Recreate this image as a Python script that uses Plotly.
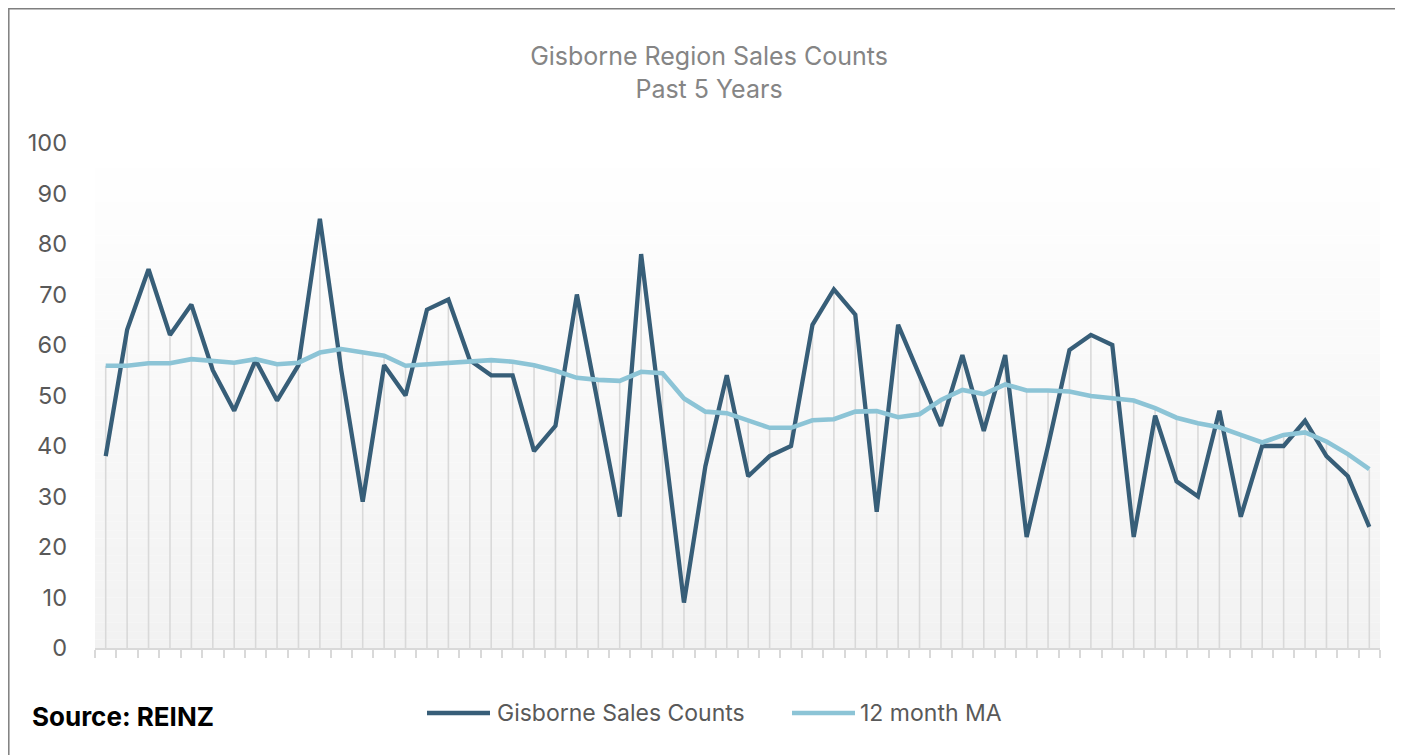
import numpy as np
import plotly.graph_objects as go

# ---- data ----
months = list(range(60))
sales = [38, 63, 75, 62, 68, 55, 47, 57, 49, 56,
         85, 55, 29, 56, 50, 67, 69, 57, 54, 54,
         39, 44, 70, 48, 26, 78, 43, 9, 36, 54,
         34, 38, 40, 64, 71, 66, 27, 64, 54, 44,
         58, 43, 58, 22, 40, 59, 62, 60, 22, 46,
         33, 30, 47, 26, 40, 40, 45, 38, 34, 24]
ma12 = [55.9, 55.9, 56.4, 56.4, 57.2, 56.9, 56.5, 57.2, 56.2, 56.5,
        58.5, 59.2, 58.5, 57.9, 55.9, 56.2, 56.3, 56.6, 57.0, 56.7,
        56.0, 54.9, 53.5, 53.1, 52.9, 54.7, 54.4, 49.4, 46.8, 46.5,
        45.1, 43.6, 43.6, 45.1, 45.3, 46.8, 46.9, 45.7, 46.3, 49.1,
        51.1, 50.3, 52.2, 51.0, 51.0, 50.8, 49.9, 49.4, 49.0, 47.5,
        45.6, 44.5, 43.7, 42.2, 40.7, 42.2, 42.7, 40.9, 38.4, 35.4]
y_ticks = [0, 10, 20, 30, 40, 50, 60, 70, 80, 90, 100]
series_names = ["Gisborne Sales Counts", "12 month MA"]

DARK = "#375e78"
LIGHT = "#8cc4d6"
TXT = "#595959"

W, H = 1403, 755
L, R, T, B = 87, 31, 135, 115
pw, ph = W - L - R, H - T - B


def px(v):  # figure pixel x -> paper
    return (v - L) / pw


def py(v):  # figure pixel y -> paper
    return (H - B - v) / ph


fig = go.Figure()

# drop lines (from axis to the highest series value)
dx, dy = [], []
for m, s, a in zip(months, sales, ma12):
    dx += [m, m, None]
    dy += [0, max(s, a), None]
fig.add_trace(go.Scatter(x=dx, y=dy, mode="lines", line=dict(color="#d9d9d9", width=1.6),
                         hoverinfo="skip", showlegend=False))

fig.add_trace(go.Scatter(x=months, y=sales, mode="lines", name=series_names[0],
                         line=dict(color=DARK, width=4.3), showlegend=False))
fig.add_trace(go.Scatter(x=months, y=ma12, mode="lines", name=series_names[1],
                         line=dict(color=LIGHT, width=4.6), showlegend=False))

shapes = []
# gradient plot background (white top -> light grey bottom)
nb = 60
for i in range(nb):
    f = i / (nb - 1)
    c = int(round(242 + (255 - 242) * f))
    shapes.append(dict(type="rect", xref="paper", yref="paper", x0=0, x1=1,
                       y0=i / nb, y1=(i + 1) / nb, line_width=0,
                       fillcolor=f"rgb({c},{c},{c})", layer="below"))
# outer frame
shapes.append(dict(type="rect", xref="paper", yref="paper",
                   x0=px(0.8), x1=px(1389), y0=py(770), y1=py(0.8),
                   line=dict(color="#7f7f7f", width=1.5), fillcolor="rgba(0,0,0,0)"))

annotations = [dict(text="<b>Source: REINZ</b>", xref="paper", yref="paper",
                    x=px(22), y=py(708), xanchor="left", yanchor="middle", showarrow=False,
                    font=dict(size=26, color="black", family="Inter"))]

# manual legend
leg = [(419, 482, 487, DARK, series_names[0]), (784, 847, 850, LIGHT, series_names[1])]
for x0, x1, xt, col, name in leg:
    shapes.append(dict(type="line", xref="paper", yref="paper", x0=px(x0), x1=px(x1),
                       y0=py(705), y1=py(705), line=dict(color=col, width=4.5)))
    annotations.append(dict(text=name, xref="paper", yref="paper", x=px(xt), y=py(705),
                            xanchor="left", yanchor="middle", showarrow=False,
                            font=dict(size=23, color=TXT, family="Inter")))

fig.update_layout(
    width=W, height=H,
    margin=dict(l=L, r=R, t=T, b=B),
    paper_bgcolor="white", plot_bgcolor="white",
    font=dict(family="Inter", color=TXT),
    title=dict(text="Gisborne Region Sales Counts<br>Past 5 Years", x=701 / W, xanchor="center",
               y=1 - 57 / H, yanchor="middle",
               font=dict(size=25, color="#858585", family="Inter")),
    showlegend=False,
    shapes=shapes,
    annotations=annotations,
)

fig.update_xaxes(range=[-0.5, len(months) - 0.5], showgrid=False, zeroline=False,
                 showline=True, linecolor="#d9d9d9", linewidth=1.5,
                 tickmode="array", tickvals=list(np.arange(len(months) + 1) - 0.5),
                 showticklabels=False, ticks="outside", ticklen=8, tickcolor="#d9d9d9", tickwidth=1.5)
fig.update_yaxes(range=[0, 100], showgrid=False, zeroline=False, showline=False,
                 tickmode="array", tickvals=y_ticks, ticks="",
                 tickfont=dict(size=23.5, color=TXT), ticklabelstandoff=27)

fig.write_html("out.html")
